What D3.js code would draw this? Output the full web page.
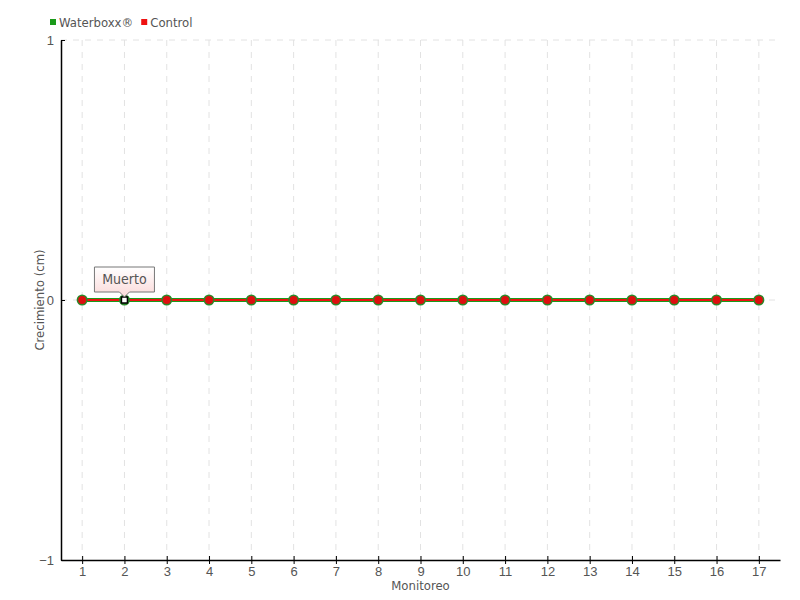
<!DOCTYPE html>
<html>
<head>
<meta charset="UTF-8">
<script src="https://cdn.jsdelivr.net/npm/d3@7"></script>
<style>
body { margin: 0; background: #fff; }
svg { font-family: "DejaVu Sans Condensed", "DejaVu Sans", sans-serif; font-stretch: condensed; }
</style>
</head>
<body>
<svg width="800" height="600"></svg>
<script>
const monitoreos = [1,2,3,4,5,6,7,8,9,10,11,12,13,14,15,16,17];
const waterboxx = [0,0,0,0,0,0,0,0,0,0,0,0,0,0,0,0,0];
const control = [0,0,0,0,0,0,0,0,0,0,0,0,0,0,0,0,0];
const yTicks = [-1, 0, 1];
const series = [
  {name: "Waterboxx®", color: "#1a9a1a", values: waterboxx},
  {name: "Control", color: "#ee1111", values: control}
];

const svg = d3.select("svg");
const x = d3.scaleLinear().domain([0.5, 17.5]).range([61, 780]);
const y = d3.scaleLinear().domain([-1, 1]).range([560, 40]);
const textColor = "#555";

// grid
svg.append("g").selectAll("line")
  .data(monitoreos).enter().append("line")
  .attr("x1", d => x(d)).attr("x2", d => x(d))
  .attr("y1", y(1)).attr("y2", y(-1))
  .attr("stroke", "#e2e2e2").attr("stroke-dasharray", "6,6");
svg.append("g").selectAll("line")
  .data(yTicks.filter(d => d > -1)).enter().append("line")
  .attr("x1", x(0.5)).attr("x2", x(17.5))
  .attr("y1", d => y(d)).attr("y2", d => y(d))
  .attr("stroke", "#e2e2e2").attr("stroke-dasharray", "6,6");

// axes
const xAxis = svg.append("g").attr("transform", "translate(0," + y(-1) + ")")
  .call(d3.axisBottom(x).tickValues(monitoreos).tickFormat(d3.format("d")).tickSize(4).tickSizeOuter(0));
const yAxis = svg.append("g").attr("transform", "translate(" + x(0.5) + ",0)")
  .call(d3.axisLeft(y).tickValues(yTicks).tickFormat(d3.format("d")).tickSize(4).tickSizeOuter(0));
[xAxis, yAxis].forEach(a => {
  a.select(".domain").attr("stroke", "#000").attr("stroke-width", 1.5);
  a.selectAll(".tick line").attr("stroke", "#000");
  a.selectAll("text").attr("fill", textColor).attr("font-size", 13)
    .attr("font-family", "inherit");
});
xAxis.selectAll(".tick line").attr("y1", -4);
xAxis.selectAll("text").attr("y", 6).attr("dy", "0.75em");
yAxis.selectAll(".tick line").attr("x2", 4);

svg.append("text").attr("x", (x(0.5) + x(17.5)) / 2).attr("y", 590)
  .attr("text-anchor", "middle").attr("fill", textColor).attr("font-size", 13)
  .text("Monitoreo");
svg.append("text").attr("transform", "translate(44," + y(0) + ") rotate(-90)")
  .attr("text-anchor", "middle").attr("fill", textColor).attr("font-size", 13)
  .text("Crecimiento (cm)");

// lines
const line = d3.line().x((d, i) => x(monitoreos[i])).y(d => y(d));
svg.append("path").datum(waterboxx).attr("d", line)
  .attr("fill", "none").attr("stroke", series[0].color).attr("stroke-width", 4);
svg.append("path").datum(control).attr("d", line)
  .attr("fill", "none").attr("stroke", series[1].color).attr("stroke-width", 2);

// markers
const pts = svg.append("g").selectAll("g")
  .data(monitoreos).enter().append("g")
  .attr("transform", (d, i) => "translate(" + x(d) + "," + y(control[i]) + ")");
pts.append("circle").attr("r", 5.5).attr("fill", "#2a8a2a");
pts.filter(d => d !== 2).append("circle").attr("r", 4).attr("fill", "#dd0f0f");
pts.filter(d => d === 2).append("rect")
  .attr("x", -3).attr("y", -3).attr("width", 6).attr("height", 6)
  .attr("fill", "#fff").attr("stroke", "#000").attr("stroke-width", 1.5);

// tooltip "Muerto"
const defs = svg.append("defs");
const grad = defs.append("linearGradient").attr("id", "tip").attr("x1", 0).attr("x2", 0).attr("y1", 0).attr("y2", 1);
grad.append("stop").attr("offset", "0%").attr("stop-color", "#fff");
grad.append("stop").attr("offset", "100%").attr("stop-color", "#fbd9d9");
const tx = x(2), ty = y(0);
svg.append("path")
  .attr("d", `M${tx - 30},${ty - 33} H${tx + 30} V${ty - 8} H${tx + 5} L${tx},${ty - 3} L${tx - 5},${ty - 8} H${tx - 30} Z`)
  .attr("fill", "url(#tip)").attr("stroke", "#777").attr("stroke-width", 1);
svg.append("text").attr("x", tx).attr("y", ty - 16).attr("text-anchor", "middle")
  .attr("fill", "#555").attr("font-size", 14).text("Muerto");

// legend
const legend = svg.append("g").attr("transform", "translate(50,22)");
let lx = 0;
series.forEach(s => {
  legend.append("rect").attr("x", lx).attr("y", -3).attr("width", 6).attr("height", 6).attr("fill", s.color);
  const t = legend.append("text").attr("x", lx + 9).attr("y", 5).attr("fill", textColor)
    .attr("font-size", 13).text(s.name);
  lx += 9 + t.node().getComputedTextLength() + 8;
});
</script>
</body>
</html>
